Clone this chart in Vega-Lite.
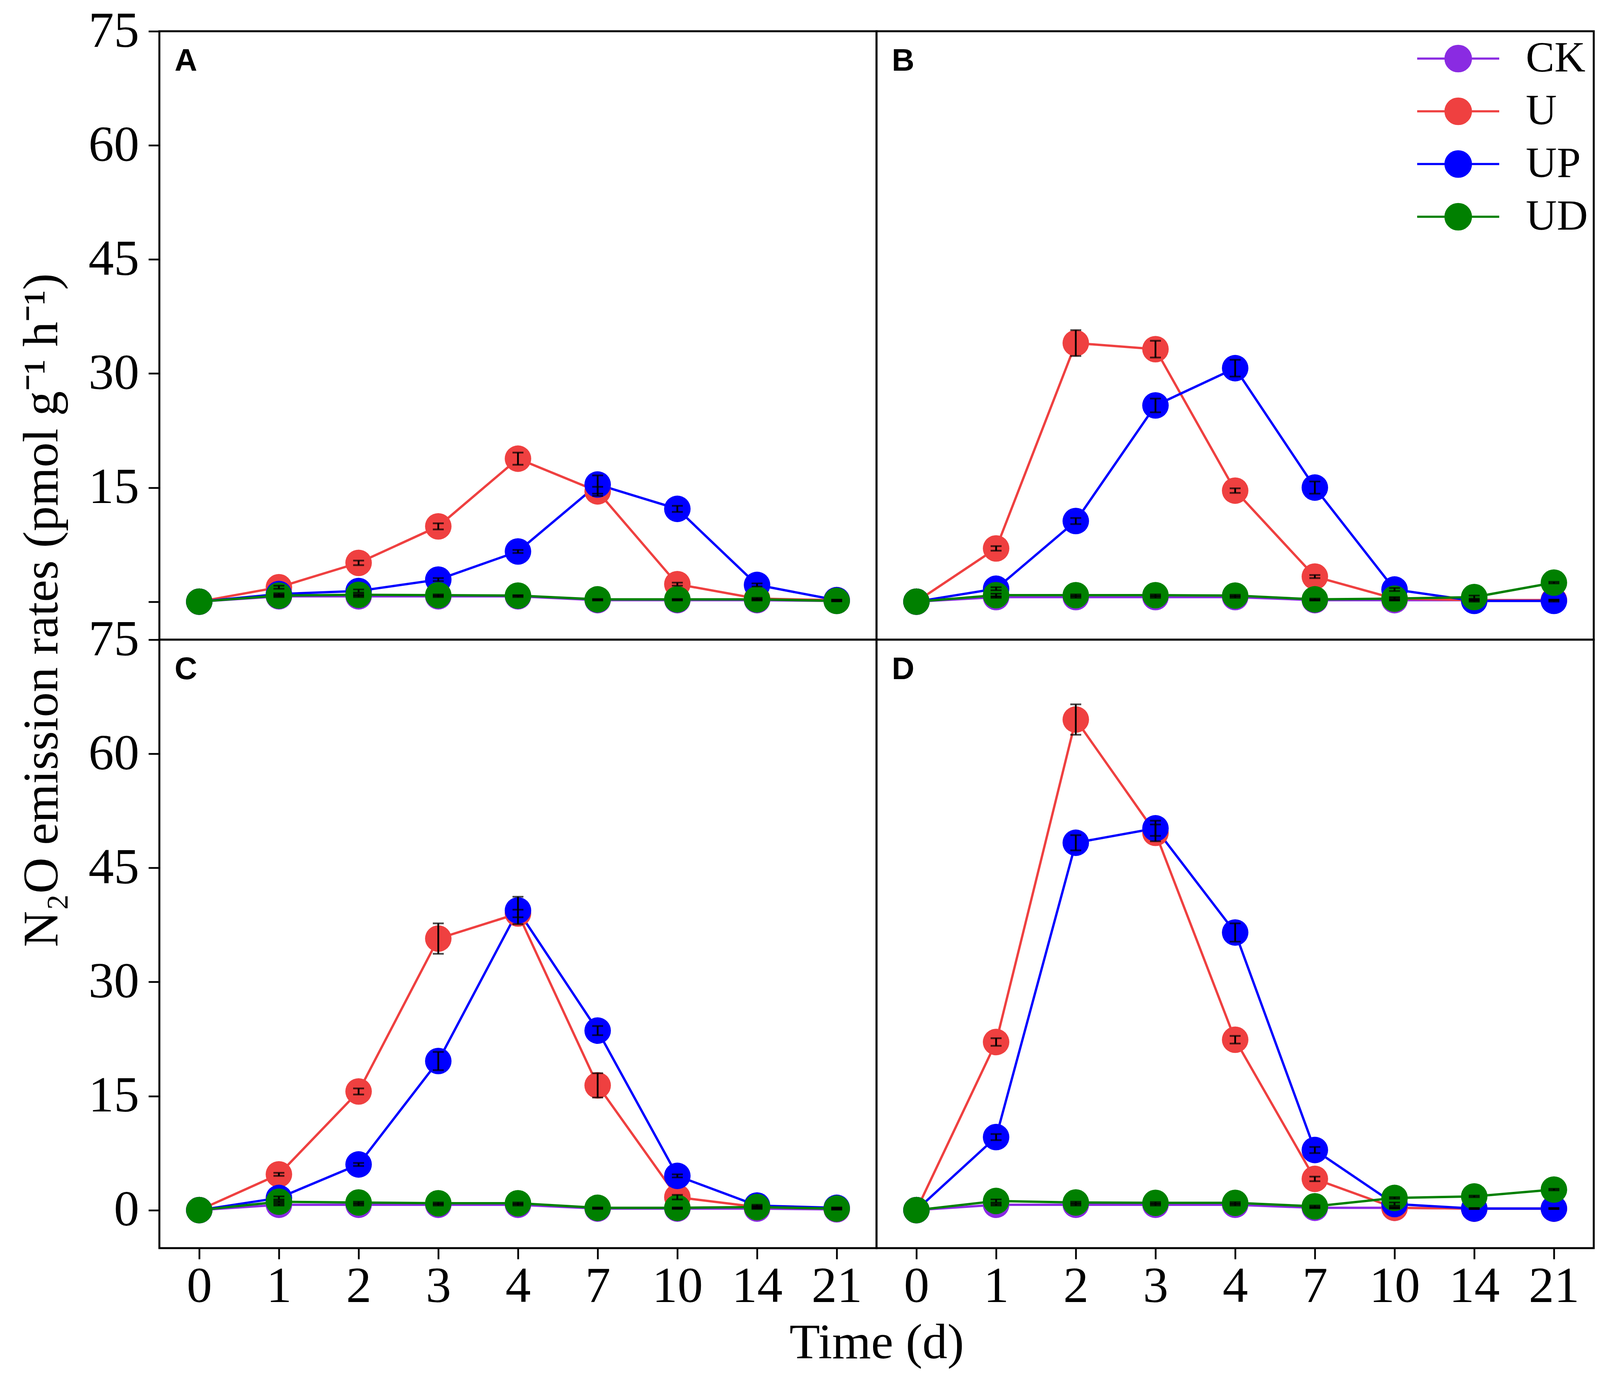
{
  "$schema": "https://vega.github.io/schema/vega-lite/v6.json",
  "background": "white",
  "padding": {"left": 41, "top": 12, "right": 0, "bottom": 0},
  "datasets": {
    "d": [
      {"panel":"A","series":"CK","day":0,"value":0,"err":0},
      {"panel":"A","series":"CK","day":1,"value":0.7,"err":0.1},
      {"panel":"A","series":"CK","day":2,"value":0.7,"err":0.1},
      {"panel":"A","series":"CK","day":3,"value":0.7,"err":0.1},
      {"panel":"A","series":"CK","day":4,"value":0.7,"err":0.1},
      {"panel":"A","series":"CK","day":7,"value":0.2,"err":0.05},
      {"panel":"A","series":"CK","day":10,"value":0.2,"err":0.05},
      {"panel":"A","series":"CK","day":14,"value":0.2,"err":0.05},
      {"panel":"A","series":"CK","day":21,"value":0.1,"err":0.05},
      {"panel":"A","series":"U","day":0,"value":0,"err":0},
      {"panel":"A","series":"U","day":1,"value":1.9,"err":0.2},
      {"panel":"A","series":"U","day":2,"value":5.1,"err":0.3},
      {"panel":"A","series":"U","day":3,"value":9.9,"err":0.4},
      {"panel":"A","series":"U","day":4,"value":18.8,"err":0.8},
      {"panel":"A","series":"U","day":7,"value":14.5,"err":0.6},
      {"panel":"A","series":"U","day":10,"value":2.3,"err":0.2},
      {"panel":"A","series":"U","day":14,"value":0.4,"err":0.1},
      {"panel":"A","series":"U","day":21,"value":0.2,"err":0.05},
      {"panel":"A","series":"UP","day":0,"value":0,"err":0},
      {"panel":"A","series":"UP","day":1,"value":1.0,"err":0.1},
      {"panel":"A","series":"UP","day":2,"value":1.4,"err":0.2},
      {"panel":"A","series":"UP","day":3,"value":2.9,"err":0.2},
      {"panel":"A","series":"UP","day":4,"value":6.6,"err":0.2},
      {"panel":"A","series":"UP","day":7,"value":15.4,"err":1.2},
      {"panel":"A","series":"UP","day":10,"value":12.2,"err":0.4},
      {"panel":"A","series":"UP","day":14,"value":2.2,"err":0.2},
      {"panel":"A","series":"UP","day":21,"value":0.2,"err":0.05},
      {"panel":"A","series":"UD","day":0,"value":0,"err":0},
      {"panel":"A","series":"UD","day":1,"value":0.8,"err":0.1},
      {"panel":"A","series":"UD","day":2,"value":0.9,"err":0.1},
      {"panel":"A","series":"UD","day":3,"value":0.85,"err":0.1},
      {"panel":"A","series":"UD","day":4,"value":0.8,"err":0.05},
      {"panel":"A","series":"UD","day":7,"value":0.3,"err":0.05},
      {"panel":"A","series":"UD","day":10,"value":0.3,"err":0.05},
      {"panel":"A","series":"UD","day":14,"value":0.3,"err":0.05},
      {"panel":"A","series":"UD","day":21,"value":0.1,"err":0.05},

      {"panel":"B","series":"CK","day":0,"value":0,"err":0},
      {"panel":"B","series":"CK","day":1,"value":0.6,"err":0.1},
      {"panel":"B","series":"CK","day":2,"value":0.6,"err":0.1},
      {"panel":"B","series":"CK","day":3,"value":0.6,"err":0.1},
      {"panel":"B","series":"CK","day":4,"value":0.6,"err":0.1},
      {"panel":"B","series":"CK","day":7,"value":0.2,"err":0.05},
      {"panel":"B","series":"CK","day":10,"value":0.2,"err":0.05},
      {"panel":"B","series":"CK","day":14,"value":0.2,"err":0.05},
      {"panel":"B","series":"CK","day":21,"value":0.2,"err":0.05},
      {"panel":"B","series":"U","day":0,"value":0,"err":0},
      {"panel":"B","series":"U","day":1,"value":7.0,"err":0.3},
      {"panel":"B","series":"U","day":2,"value":34.0,"err":1.7},
      {"panel":"B","series":"U","day":3,"value":33.2,"err":1.1},
      {"panel":"B","series":"U","day":4,"value":14.6,"err":0.3},
      {"panel":"B","series":"U","day":7,"value":3.3,"err":0.2},
      {"panel":"B","series":"U","day":10,"value":0.4,"err":0.1},
      {"panel":"B","series":"U","day":14,"value":0.2,"err":0.05},
      {"panel":"B","series":"U","day":21,"value":0.2,"err":0.05},
      {"panel":"B","series":"UP","day":0,"value":0,"err":0},
      {"panel":"B","series":"UP","day":1,"value":1.7,"err":0.2},
      {"panel":"B","series":"UP","day":2,"value":10.6,"err":0.4},
      {"panel":"B","series":"UP","day":3,"value":25.8,"err":0.9},
      {"panel":"B","series":"UP","day":4,"value":30.7,"err":1.1},
      {"panel":"B","series":"UP","day":7,"value":15.0,"err":0.8},
      {"panel":"B","series":"UP","day":10,"value":1.6,"err":0.2},
      {"panel":"B","series":"UP","day":14,"value":0.1,"err":0.1},
      {"panel":"B","series":"UP","day":21,"value":0.1,"err":0.1},
      {"panel":"B","series":"UD","day":0,"value":0,"err":0},
      {"panel":"B","series":"UD","day":1,"value":0.85,"err":0.2},
      {"panel":"B","series":"UD","day":2,"value":0.85,"err":0.1},
      {"panel":"B","series":"UD","day":3,"value":0.85,"err":0.1},
      {"panel":"B","series":"UD","day":4,"value":0.8,"err":0.1},
      {"panel":"B","series":"UD","day":7,"value":0.3,"err":0.1},
      {"panel":"B","series":"UD","day":10,"value":0.4,"err":0.2},
      {"panel":"B","series":"UD","day":14,"value":0.6,"err":0.2},
      {"panel":"B","series":"UD","day":21,"value":2.5,"err":0.1},

      {"panel":"C","series":"CK","day":0,"value":0,"err":0},
      {"panel":"C","series":"CK","day":1,"value":0.7,"err":0.1},
      {"panel":"C","series":"CK","day":2,"value":0.7,"err":0.1},
      {"panel":"C","series":"CK","day":3,"value":0.7,"err":0.1},
      {"panel":"C","series":"CK","day":4,"value":0.7,"err":0.1},
      {"panel":"C","series":"CK","day":7,"value":0.2,"err":0.05},
      {"panel":"C","series":"CK","day":10,"value":0.2,"err":0.05},
      {"panel":"C","series":"CK","day":14,"value":0.2,"err":0.05},
      {"panel":"C","series":"CK","day":21,"value":0.1,"err":0.05},
      {"panel":"C","series":"U","day":0,"value":0,"err":0},
      {"panel":"C","series":"U","day":1,"value":4.7,"err":0.2},
      {"panel":"C","series":"U","day":2,"value":15.6,"err":0.4},
      {"panel":"C","series":"U","day":3,"value":35.7,"err":2.0},
      {"panel":"C","series":"U","day":4,"value":39.0,"err":0.5},
      {"panel":"C","series":"U","day":7,"value":16.4,"err":1.6},
      {"panel":"C","series":"U","day":10,"value":1.7,"err":0.3},
      {"panel":"C","series":"U","day":14,"value":0.4,"err":0.1},
      {"panel":"C","series":"U","day":21,"value":0.2,"err":0.05},
      {"panel":"C","series":"UP","day":0,"value":0,"err":0},
      {"panel":"C","series":"UP","day":1,"value":1.6,"err":0.2},
      {"panel":"C","series":"UP","day":2,"value":6.0,"err":0.2},
      {"panel":"C","series":"UP","day":3,"value":19.6,"err":1.2},
      {"panel":"C","series":"UP","day":4,"value":39.4,"err":1.8},
      {"panel":"C","series":"UP","day":7,"value":23.6,"err":0.6},
      {"panel":"C","series":"UP","day":10,"value":4.5,"err":0.2},
      {"panel":"C","series":"UP","day":14,"value":0.6,"err":0.1},
      {"panel":"C","series":"UP","day":21,"value":0.3,"err":0.05},
      {"panel":"C","series":"UD","day":0,"value":0,"err":0},
      {"panel":"C","series":"UD","day":1,"value":1.1,"err":0.1},
      {"panel":"C","series":"UD","day":2,"value":1.0,"err":0.1},
      {"panel":"C","series":"UD","day":3,"value":0.9,"err":0.1},
      {"panel":"C","series":"UD","day":4,"value":0.9,"err":0.1},
      {"panel":"C","series":"UD","day":7,"value":0.3,"err":0.05},
      {"panel":"C","series":"UD","day":10,"value":0.3,"err":0.05},
      {"panel":"C","series":"UD","day":14,"value":0.4,"err":0.1},
      {"panel":"C","series":"UD","day":21,"value":0.2,"err":0.05},

      {"panel":"D","series":"CK","day":0,"value":0,"err":0},
      {"panel":"D","series":"CK","day":1,"value":0.7,"err":0.1},
      {"panel":"D","series":"CK","day":2,"value":0.7,"err":0.1},
      {"panel":"D","series":"CK","day":3,"value":0.7,"err":0.1},
      {"panel":"D","series":"CK","day":4,"value":0.7,"err":0.1},
      {"panel":"D","series":"CK","day":7,"value":0.3,"err":0.05},
      {"panel":"D","series":"CK","day":10,"value":0.3,"err":0.05},
      {"panel":"D","series":"CK","day":14,"value":0.2,"err":0.05},
      {"panel":"D","series":"CK","day":21,"value":0.2,"err":0.05},
      {"panel":"D","series":"U","day":0,"value":0,"err":0},
      {"panel":"D","series":"U","day":1,"value":22.1,"err":0.5},
      {"panel":"D","series":"U","day":2,"value":64.5,"err":2.0},
      {"panel":"D","series":"U","day":3,"value":49.6,"err":1.1},
      {"panel":"D","series":"U","day":4,"value":22.4,"err":0.5},
      {"panel":"D","series":"U","day":7,"value":4.1,"err":0.3},
      {"panel":"D","series":"U","day":10,"value":0.3,"err":0.1},
      {"panel":"D","series":"U","day":14,"value":0.2,"err":0.05},
      {"panel":"D","series":"U","day":21,"value":0.2,"err":0.05},
      {"panel":"D","series":"UP","day":0,"value":0,"err":0},
      {"panel":"D","series":"UP","day":1,"value":9.6,"err":0.4},
      {"panel":"D","series":"UP","day":2,"value":48.3,"err":1.0},
      {"panel":"D","series":"UP","day":3,"value":50.2,"err":1.0},
      {"panel":"D","series":"UP","day":4,"value":36.5,"err":1.2},
      {"panel":"D","series":"UP","day":7,"value":7.9,"err":0.4},
      {"panel":"D","series":"UP","day":10,"value":0.8,"err":0.2},
      {"panel":"D","series":"UP","day":14,"value":0.2,"err":0.05},
      {"panel":"D","series":"UP","day":21,"value":0.2,"err":0.05},
      {"panel":"D","series":"UD","day":0,"value":0,"err":0},
      {"panel":"D","series":"UD","day":1,"value":1.2,"err":0.2},
      {"panel":"D","series":"UD","day":2,"value":1.0,"err":0.1},
      {"panel":"D","series":"UD","day":3,"value":0.95,"err":0.1},
      {"panel":"D","series":"UD","day":4,"value":0.95,"err":0.1},
      {"panel":"D","series":"UD","day":7,"value":0.5,"err":0.1},
      {"panel":"D","series":"UD","day":10,"value":1.6,"err":0.1},
      {"panel":"D","series":"UD","day":14,"value":1.8,"err":0.1},
      {"panel":"D","series":"UD","day":21,"value":2.7,"err":0.1}
    ]
  },
  "data": {"name": "d"},
  "columns": 2,
  "spacing": 0,
  "bounds": "flush",
  "align": "each",
  "resolve": {"legend": {"color": "independent"}},
  "concat": [
    {
      "width": 1836, "height": 1558,
      "transform": [{"filter": "datum.panel == 'A'"}],
      "encoding": {
        "x": {"field": "day", "type": "ordinal", "sort": [0,1,2,3,4,7,10,14,21], "scale": {"type": "point", "padding": 0.5}, "axis": null},
        "y": {"field": "value", "type": "quantitative", "scale": {"domain": [-5, 75], "nice": false, "zero": false},
              "axis": {"values": [0,15,30,45,60,75], "labelExpr": "datum.value == 0 ? '' : datum.label", "title": "N₂O emission rates (pmol g⁻¹ h⁻¹)", "titleX": -262, "titleY": 1482, "titleAngle": -90, "titleBaseline": "alphabetic", "titleAlign": "center"}}
      },
      "layer": [
        {"mark": {"type": "line", "strokeWidth": 6}, "encoding": {"color": {"field": "series", "type": "nominal", "scale": {"domain": ["CK","U","UP","UD"], "range": ["#8A2BE2","#EF4040","#0000FF","#008000"]}, "legend": null}}},
        {"mark": {"type": "point", "filled": true, "size": 4600, "opacity": 1, "strokeWidth": 0}, "encoding": {"color": {"field": "series", "type": "nominal", "legend": null}}},
        {"transform": [{"filter": "datum.err > 0"}], "mark": {"type": "errorbar", "color": "black", "thickness": 4.5, "ticks": {"size": 28, "thickness": 4.5, "color": "black"}, "rule": {"strokeWidth": 4.5, "color": "black"}}, "encoding": {"yError": {"field": "err"}}},
        {"transform": [{"filter": "datum.series == 'CK' && datum.day == 0"}], "mark": {"type": "text", "align": "left", "baseline": "top", "dx": -63, "dy": 38, "font": "Liberation Sans", "fontWeight": "bold", "fontSize": 80, "color": "black"}, "encoding": {"y": {"datum": 75}, "text": {"field": "panel"}}}
      ]
    },
    {
      "width": 1836, "height": 1558,
      "transform": [{"filter": "datum.panel == 'B'"}],
      "encoding": {
        "x": {"field": "day", "type": "ordinal", "sort": [0,1,2,3,4,7,10,14,21], "scale": {"type": "point", "padding": 0.5}, "axis": null},
        "y": {"field": "value", "type": "quantitative", "scale": {"domain": [-5, 75], "nice": false, "zero": false}, "axis": null}
      },
      "layer": [
        {"mark": {"type": "line", "strokeWidth": 6}, "encoding": {"color": {"field": "series", "type": "nominal", "scale": {"domain": ["CK","U","UP","UD"], "range": ["#8A2BE2","#EF4040","#0000FF","#008000"]},
          "legend": {"orient": "top-right", "offset": 15, "padding": 0, "title": null,
            "symbolType": "M-3.0,0L3.0,0M-0.93,0A0.93,0.93 0 1,0 0.93,0A0.93,0.93 0 1,0 -0.93,0M-0.83,0A0.83,0.83 0 1,0 0.83,0A0.83,0.83 0 1,0 -0.83,0M-0.73,0A0.73,0.73 0 1,0 0.73,0A0.73,0.73 0 1,0 -0.73,0M-0.63,0A0.63,0.63 0 1,0 0.63,0A0.63,0.63 0 1,0 -0.63,0M-0.53,0A0.53,0.53 0 1,0 0.53,0A0.53,0.53 0 1,0 -0.53,0M-0.43,0A0.43,0.43 0 1,0 0.43,0A0.43,0.43 0 1,0 -0.43,0M-0.33,0A0.33,0.33 0 1,0 0.33,0A0.33,0.33 0 1,0 -0.33,0M-0.23,0A0.23,0.23 0 1,0 0.23,0A0.23,0.23 0 1,0 -0.23,0M-0.13,0A0.13,0.13 0 1,0 0.13,0A0.13,0.13 0 1,0 -0.13,0M-0.05,0A0.05,0.05 0 1,0 0.05,0A0.05,0.05 0 1,0 -0.05,0",
            "symbolSize": 4900, "symbolStrokeWidth": 5.5, "symbolFillColor": "transparent", "symbolOpacity": 1,
            "labelFont": "Liberation Serif", "labelFontSize": 110, "labelColor": "black", "labelOffset": 118, "labelLimit": 500, "rowPadding": 25}}}},
        {"mark": {"type": "point", "filled": true, "size": 4600, "opacity": 1, "strokeWidth": 0}, "encoding": {"color": {"field": "series", "type": "nominal", "legend": null}}},
        {"transform": [{"filter": "datum.err > 0"}], "mark": {"type": "errorbar", "color": "black", "thickness": 4.5, "ticks": {"size": 28, "thickness": 4.5, "color": "black"}, "rule": {"strokeWidth": 4.5, "color": "black"}}, "encoding": {"yError": {"field": "err"}}},
        {"transform": [{"filter": "datum.series == 'CK' && datum.day == 0"}], "mark": {"type": "text", "align": "left", "baseline": "top", "dx": -63, "dy": 38, "font": "Liberation Sans", "fontWeight": "bold", "fontSize": 80, "color": "black"}, "encoding": {"y": {"datum": 75}, "text": {"field": "panel"}}}
      ]
    },
    {
      "width": 1836, "height": 1558,
      "transform": [{"filter": "datum.panel == 'C'"}],
      "encoding": {
        "x": {"field": "day", "type": "ordinal", "sort": [0,1,2,3,4,7,10,14,21], "scale": {"type": "point", "padding": 0.5},
              "axis": {"labelAngle": 0, "title": "Time (d)", "titleX": 1836, "titleY": 281, "titleBaseline": "alphabetic", "titleAlign": "center"}},
        "y": {"field": "value", "type": "quantitative", "scale": {"domain": [-5, 75], "nice": false, "zero": false},
              "axis": {"values": [0,15,30,45,60,75], "title": null}}
      },
      "layer": [
        {"mark": {"type": "line", "strokeWidth": 6}, "encoding": {"color": {"field": "series", "type": "nominal", "scale": {"domain": ["CK","U","UP","UD"], "range": ["#8A2BE2","#EF4040","#0000FF","#008000"]}, "legend": null}}},
        {"mark": {"type": "point", "filled": true, "size": 4600, "opacity": 1, "strokeWidth": 0}, "encoding": {"color": {"field": "series", "type": "nominal", "legend": null}}},
        {"transform": [{"filter": "datum.err > 0"}], "mark": {"type": "errorbar", "color": "black", "thickness": 4.5, "ticks": {"size": 28, "thickness": 4.5, "color": "black"}, "rule": {"strokeWidth": 4.5, "color": "black"}}, "encoding": {"yError": {"field": "err"}}},
        {"transform": [{"filter": "datum.series == 'CK' && datum.day == 0"}], "mark": {"type": "text", "align": "left", "baseline": "top", "dx": -63, "dy": 38, "font": "Liberation Sans", "fontWeight": "bold", "fontSize": 80, "color": "black"}, "encoding": {"y": {"datum": 75}, "text": {"field": "panel"}}}
      ]
    },
    {
      "width": 1836, "height": 1558,
      "transform": [{"filter": "datum.panel == 'D'"}],
      "encoding": {
        "x": {"field": "day", "type": "ordinal", "sort": [0,1,2,3,4,7,10,14,21], "scale": {"type": "point", "padding": 0.5},
              "axis": {"labelAngle": 0, "title": null}},
        "y": {"field": "value", "type": "quantitative", "scale": {"domain": [-5, 75], "nice": false, "zero": false}, "axis": null}
      },
      "layer": [
        {"mark": {"type": "line", "strokeWidth": 6}, "encoding": {"color": {"field": "series", "type": "nominal", "scale": {"domain": ["CK","U","UP","UD"], "range": ["#8A2BE2","#EF4040","#0000FF","#008000"]}, "legend": null}}},
        {"mark": {"type": "point", "filled": true, "size": 4600, "opacity": 1, "strokeWidth": 0}, "encoding": {"color": {"field": "series", "type": "nominal", "legend": null}}},
        {"transform": [{"filter": "datum.err > 0"}], "mark": {"type": "errorbar", "color": "black", "thickness": 4.5, "ticks": {"size": 28, "thickness": 4.5, "color": "black"}, "rule": {"strokeWidth": 4.5, "color": "black"}}, "encoding": {"yError": {"field": "err"}}},
        {"transform": [{"filter": "datum.series == 'CK' && datum.day == 0"}], "mark": {"type": "text", "align": "left", "baseline": "top", "dx": -63, "dy": 38, "font": "Liberation Sans", "fontWeight": "bold", "fontSize": 80, "color": "black"}, "encoding": {"y": {"datum": 75}, "text": {"field": "panel"}}}
      ]
    }
  ],
  "config": {
    "view": {"stroke": "black", "strokeWidth": 5, "fill": "white"},
    "axis": {"domain": false, "grid": false, "ticks": true, "tickColor": "black", "tickWidth": 4.5, "tickSize": 28, "labelFont": "Liberation Serif", "labelFontSize": 130, "labelColor": "black", "labelPadding": 24, "titleFont": "Liberation Serif", "titleFontSize": 128, "titleColor": "black", "titleFontWeight": "normal"},
    "axisX": {"labelPadding": 6}
  }
}
